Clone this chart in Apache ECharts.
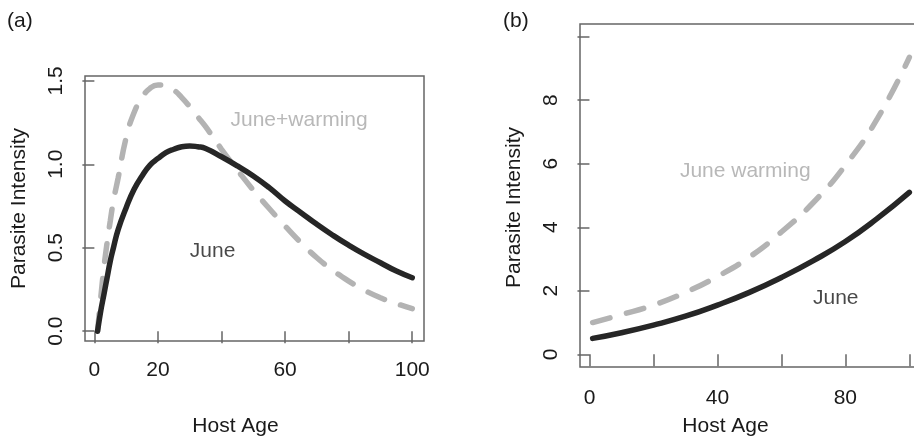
<!DOCTYPE html>
<html>
<head>
<meta charset="utf-8">
<script src="https://cdn.jsdelivr.net/npm/echarts@6/dist/echarts.min.js"></script>
<style>
  html, body {margin: 0; padding: 0; background: #fff;}
  #main {width: 914px; height: 437px;}
</style>
</head>
<body>
<div id="main"></div>
<script>
// panel (a): host age vs parasite intensity, hump shaped
var ageA = [1, 2, 3, 4, 5, 6, 7.5, 10, 12.5, 15, 17.5, 20, 22.5, 25, 27.5, 30, 32.5, 35, 40, 45, 50, 55, 60, 65, 70, 75, 80, 85, 90, 95, 100];
var juneA = [0.0, 0.12, 0.22, 0.32, 0.42, 0.5, 0.61, 0.74, 0.85, 0.93, 0.995, 1.035, 1.07, 1.09, 1.105, 1.11, 1.105, 1.095, 1.045, 0.99, 0.93, 0.86, 0.78, 0.71, 0.64, 0.575, 0.515, 0.46, 0.41, 0.36, 0.32];
var warmA = [0.0, 0.2, 0.38, 0.53, 0.66, 0.78, 0.92, 1.16, 1.31, 1.4, 1.455, 1.475, 1.47, 1.445, 1.4, 1.345, 1.285, 1.225, 1.09, 0.965, 0.845, 0.735, 0.63, 0.53, 0.44, 0.365, 0.3, 0.245, 0.2, 0.165, 0.135];

// panel (b): rising curves
var ageB = [1, 10, 20, 30, 40, 50, 60, 70, 80, 90, 100];
var juneB = [0.5, 0.68, 0.92, 1.2, 1.55, 1.95, 2.42, 2.95, 3.55, 4.28, 5.1];
var warmB = [1.0, 1.25, 1.55, 1.95, 2.45, 3.06, 3.85, 4.78, 5.95, 7.42, 9.35];

// ticks
var xTicks = [0, 20, 40, 60, 80, 100];
var xLabelsA = [0, 20, 60, 100];
var xLabelsB = [0, 40, 80];
var yTicksA = [0, 0.5, 1.0, 1.5];
var yTicksB = [0, 2, 4, 6, 8, 10];
var yLabelsB = [0, 2, 4, 6, 8];

// text annotations [x, y, text, colour]
var notesA = [[64.4, 1.265, 'June+warming', '#a6a6a6'], [37.2, 0.481, 'June', '#1a1a1a']];
var notesB = [[48.7, 5.77, 'June warming', '#a6a6a6'], [77.0, 1.78, 'June', '#1a1a1a']];

var font = 'Liberation Sans, Arial, Helvetica, sans-serif';
var fs = 21;
var axisCol = '#666';
var darkLine = '#262626';
var greyLine = '#b3b3b3';

function pairs(xs, ys) {
  return xs.map(function (x, i) { return [x, ys[i]]; });
}

function xAxisOf(idx, min, max, labels, gap, margin, pad) {
  return {
    type: 'value', gridIndex: idx, min: min, max: max,
    name: 'Host Age', nameLocation: 'middle', nameGap: gap,
    nameTextStyle: {fontSize: fs, color: '#1a1a1a', fontFamily: font, padding: [0, pad, 0, 0]},
    axisLine: {show: false},
    splitLine: {show: false},
    axisTick: {show: true, length: 12, customValues: xTicks, lineStyle: {color: axisCol, width: 1.5}},
    axisLabel: {customValues: labels, margin: margin, fontSize: fs, color: '#1a1a1a', fontFamily: font,
      formatter: function (v) { return String(v); }}
  };
}

function yAxisOf(idx, min, max, ticks, labels, fmt, pad) {
  return {
    type: 'value', gridIndex: idx, min: min, max: max,
    name: 'Parasite Intensity', nameLocation: 'middle', nameGap: 55, nameRotate: 90,
    nameTextStyle: {fontSize: fs, color: '#1a1a1a', fontFamily: font, padding: pad},
    axisLine: {show: false},
    splitLine: {show: false},
    axisTick: {show: true, length: 12, customValues: ticks, lineStyle: {color: axisCol, width: 1.5}},
    axisLabel: {customValues: labels, rotate: 90, margin: 18, fontSize: fs, color: '#1a1a1a', fontFamily: font,
      formatter: fmt}
  };
}

function noteSeries(idx, notes) {
  return {
    type: 'scatter', xAxisIndex: idx, yAxisIndex: idx,
    symbolSize: 0, silent: true, z: 5,
    data: notes.map(function (n) {
      return {value: [n[0], n[1]], label: {formatter: n[2], color: n[3]}};
    }),
    label: {show: true, position: 'inside', fontSize: fs, fontFamily: font}
  };
}

var chart = echarts.init(document.getElementById('main'), null, {renderer: 'canvas'});
chart.setOption({
  animation: false,
  backgroundColor: '#fff',
  graphic: [
    {type: 'text', left: 7, top: 11, style: {text: '(a)', fontSize: fs, fontFamily: font, fill: '#1a1a1a'}},
    {type: 'text', left: 503, top: 11, style: {text: '(b)', fontSize: fs, fontFamily: font, fill: '#1a1a1a'}}
  ],
  grid: [
    {left: 85, top: 76, right: 490, bottom: 96, show: true, borderColor: axisCol, borderWidth: 1.5,
      outerBoundsMode: 'none'},
    {left: 580, top: 24, right: -8, bottom: 70, show: true, borderColor: axisCol, borderWidth: 1.5,
      outerBoundsMode: 'none'}
  ],
  xAxis: [
    xAxisOf(0, -2.95, 103.7, xLabelsA, 75, 19, 38),
    xAxisOf(1, -2.96, 103.96, xLabelsB, 49, 21, 51)
  ],
  yAxis: [
    yAxisOf(0, -0.059, 1.529, yTicksA, yTicksA, function (v) { return v.toFixed(1); }, [0, 0, 0, 0]),
    yAxisOf(1, -0.4, 10.4, yTicksB, yLabelsB, function (v) { return String(v); }, [0, 24, 0, 0])
  ],
  series: [
    {type: 'line', name: 'June+warming', xAxisIndex: 0, yAxisIndex: 0, data: pairs(ageA, warmA),
      showSymbol: false, smooth: 0.5,
      lineStyle: {color: greyLine, width: 5.5, type: [18, 17], cap: 'round'}},
    {type: 'line', name: 'June', xAxisIndex: 0, yAxisIndex: 0, data: pairs(ageA, juneA),
      showSymbol: false, smooth: 0.5,
      lineStyle: {color: darkLine, width: 5.5, cap: 'round'}},
    {type: 'line', name: 'June warming', xAxisIndex: 1, yAxisIndex: 1, data: pairs(ageB, warmB),
      showSymbol: false, smooth: 0.5,
      lineStyle: {color: greyLine, width: 5.5, type: [18, 17], cap: 'round'}},
    {type: 'line', name: 'June', xAxisIndex: 1, yAxisIndex: 1, data: pairs(ageB, juneB),
      showSymbol: false, smooth: 0.5,
      lineStyle: {color: darkLine, width: 5.5, cap: 'round'}},
    noteSeries(0, notesA),
    noteSeries(1, notesB)
  ]
});
</script>
</body>
</html>
